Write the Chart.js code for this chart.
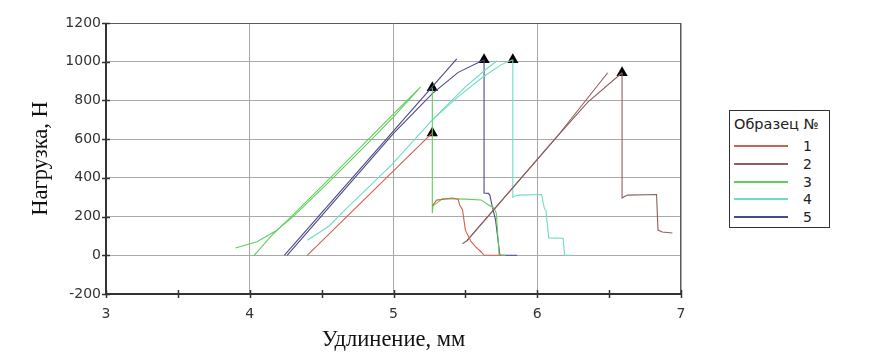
<!DOCTYPE html>
<html><head><meta charset="utf-8">
<script src="https://cdn.jsdelivr.net/npm/chart.js@4/dist/chart.umd.min.js"></script>
<style>
html,body{margin:0;padding:0;background:#fff;}
#wrap{position:relative;width:873px;height:362px;}
#legend{position:absolute;left:729px;top:110px;width:101px;height:118px;border:1px solid #333;box-sizing:border-box;font-family:"DejaVu Sans",Verdana,sans-serif;color:#222;background:#fff;}
#legend .ttl{position:absolute;left:4px;top:5px;font-size:14.5px;line-height:16px;white-space:nowrap;}
#legend .row{position:absolute;left:0;width:100%;height:16px;}
#legend .ln{position:absolute;left:4px;top:7px;width:54px;height:2px;}
#legend .lb{position:absolute;left:73px;top:0;font-size:14px;line-height:16px;}
</style></head>
<body>
<div id="wrap"><canvas id="c" width="873" height="362"></canvas><div id="legend"></div></div>
<script>
// ---- series ----
const seriesNames = ['1', '2', '3', '4', '5'];
const seriesColors = ['#d2604f', '#8f5f5f', '#5fcf5f', '#6fdcc4', '#4b4a88'];
const legendTitle = 'Образец №';

// ---- axis ticks ----
const xTickValues = [3, 4, 5, 6, 7];
const yTickValues = [-200, 0, 200, 400, 600, 800, 1000, 1200];

// ---- specimen 1 (red) ----
const s1LoadX = [4.40, 4.62, 5.27];
const s1LoadY = [0, 160, 632];
const s1DropX = [5.27, 5.30, 5.41, 5.45, 5.46, 5.48, 5.50, 5.54, 5.57, 5.61, 5.63, 5.75];
const s1DropY = [255, 285, 296, 290, 260, 235, 130, 70, 45, 17, 0, 0];

// ---- specimen 2 (brown) ----
const s2LoadAX = [5.48, 5.51, 6.13, 6.49];
const s2LoadAY = [60, 75, 606, 943];
const s2LoadBX = [5.51, 6.13, 6.35, 6.59];
const s2LoadBY = [75, 606, 790, 943];
const s2DropX = [6.59, 6.59, 6.61, 6.63, 6.83, 6.84, 6.87, 6.94];
const s2DropY = [943, 296, 305, 311, 314, 130, 120, 115];

// ---- specimen 3 (green) ----
const s3LoadAX = [3.90, 4.05, 4.18, 4.30, 4.58, 4.85, 5.00, 5.17];
const s3LoadAY = [38, 70, 125, 198, 400, 600, 715, 855];
const s3LoadBX = [4.03, 4.15, 4.31, 4.60, 5.00, 5.19];
const s3LoadBY = [0, 100, 215, 430, 730, 870];
const s3DropX = [5.27, 5.27, 5.275, 5.34, 5.50, 5.61, 5.65, 5.70, 5.715, 5.735, 5.78];
const s3DropY = [866, 218, 255, 292, 290, 286, 265, 243, 218, 0, 0];

// ---- specimen 4 (cyan) ----
const s4LoadAX = [4.40, 4.55, 4.67, 4.99, 5.27, 5.50, 5.65, 5.72];
const s4LoadAY = [78, 150, 240, 470, 700, 870, 965, 1005];
const s4LoadBX = [5.27, 5.45, 5.62, 5.75, 5.83];
const s4LoadBY = [700, 820, 920, 985, 1010];
const s4DropX = [5.83, 5.83, 5.84, 5.87, 6.03, 6.05, 6.06, 6.08, 6.18, 6.19, 6.24];
const s4DropY = [1010, 300, 305, 311, 314, 240, 233, 90, 88, 0, 0];

// ---- specimen 5 (dark blue) ----
const s5LoadAX = [4.24, 5.44];
const s5LoadAY = [0, 1015];
const s5LoadBX = [4.26, 5.00, 5.27, 5.45, 5.63];
const s5LoadBY = [0, 630, 835, 945, 1010];
const s5DropX = [5.63, 5.63, 5.66, 5.67, 5.69, 5.71, 5.74, 5.86];
const s5DropY = [1010, 322, 320, 311, 243, 182, 0, 0];

// ---- break markers ----
const breakX = [5.27, 5.27, 5.63, 5.83, 6.59];
const breakY = [632, 866, 1010, 1010, 943];

const xTitle = 'Удлинение, мм';
const yTitle = 'Нагрузка, Н';

const curves = [
  [0, s1LoadX, s1LoadY], [0, s1DropX, s1DropY],
  [1, s2LoadAX, s2LoadAY], [1, s2LoadBX, s2LoadBY], [1, s2DropX, s2DropY],
  [2, s3LoadAX, s3LoadAY], [2, s3LoadBX, s3LoadBY], [2, s3DropX, s3DropY],
  [3, s4LoadAX, s4LoadAY], [3, s4LoadBX, s4LoadBY], [3, s4DropX, s4DropY],
  [4, s5LoadAX, s5LoadAY], [4, s5LoadBX, s5LoadBY], [4, s5DropX, s5DropY]
];

const zip = (xs, ys) => xs.map((x, i) => ({x: x, y: ys[i]}));

const datasets = curves.map(([s, xs, ys]) => ({
  label: seriesNames[s],
  data: zip(xs, ys),
  showLine: true,
  borderColor: seriesColors[s],
  borderWidth: 1.1,
  pointRadius: 0,
  tension: 0,
  fill: false
}));
datasets.push({
  label: 'break',
  data: zip(breakX, breakY),
  showLine: false,
  pointStyle: 'triangle',
  pointRadius: 6.5,
  backgroundColor: '#000',
  borderColor: '#000',
  borderWidth: 0
});

// legend (HTML)
const lg = document.getElementById('legend');
const t = document.createElement('div'); t.className = 'ttl'; t.textContent = legendTitle; lg.appendChild(t);
seriesNames.forEach((n, i) => {
  const r = document.createElement('div'); r.className = 'row';
  r.style.top = (27 + i * 17.8) + 'px';
  const l = document.createElement('div'); l.className = 'ln'; l.style.background = seriesColors[i];
  const b = document.createElement('div'); b.className = 'lb'; b.textContent = n;
  r.appendChild(l); r.appendChild(b); lg.appendChild(r);
});

const GRID = '#a9a9a9';
const framePlugin = {
  id: 'frame',
  afterDraw(chart) {
    const ctx = chart.ctx, a = chart.chartArea, xs = chart.scales.x, ys = chart.scales.y;
    ctx.save();
    ctx.strokeStyle = '#5a5a5a'; ctx.lineWidth = 1;
    ctx.beginPath(); ctx.moveTo(a.left, a.top + 0.5); ctx.lineTo(a.right, a.top + 0.5); ctx.stroke();
    ctx.beginPath(); ctx.moveTo(a.right - 0.5, a.top); ctx.lineTo(a.right - 0.5, a.bottom); ctx.stroke();
    ctx.strokeStyle = '#333'; ctx.lineWidth = 2;
    ctx.beginPath(); ctx.moveTo(a.left, a.top); ctx.lineTo(a.left, a.bottom); ctx.lineTo(a.right, a.bottom); ctx.stroke();
    ctx.lineWidth = 1.5;
    xs.ticks.forEach(tk => {
      const p = Math.round(xs.getPixelForValue(tk.value)) + 0.5;
      ctx.beginPath(); ctx.moveTo(p, a.bottom - 4); ctx.lineTo(p, a.bottom + 4); ctx.stroke();
    });
    ys.ticks.forEach(tk => {
      const p = Math.round(ys.getPixelForValue(tk.value)) + 0.5;
      ctx.beginPath(); ctx.moveTo(a.left - 4, p); ctx.lineTo(a.left + 4, p); ctx.stroke();
    });
    ctx.restore();
  }
};

new Chart(document.getElementById('c'), {
  type: 'scatter',
  data: {datasets: datasets},
  options: {
    responsive: false,
    animation: false,
    layout: {padding: {top: 23, right: 192, left: 0, bottom: 0}},
    plugins: {legend: {display: false}, tooltip: {enabled: false}},
    scales: {
      x: {
        type: 'linear', min: xTickValues[0], max: xTickValues[xTickValues.length - 1],
        afterFit: s => { s.height = 68; },
        border: {display: false},
        grid: {
          drawTicks: false,
          color: c => (c.tick && xTickValues.includes(c.tick.value)) ? GRID : 'rgba(0,0,0,0)',
          lineWidth: 1
        },
        ticks: {
          stepSize: 0.5, padding: 12, color: '#333',
          font: {family: '"DejaVu Sans", Verdana, sans-serif', size: 14},
          callback: v => xTickValues.includes(v) ? String(v) : ''
        },
        title: {
          display: true, text: xTitle, color: '#111',
          font: {family: '"Liberation Serif", "Times New Roman", serif', size: 22.5},
          padding: {top: 0, bottom: 8}
        }
      },
      y: {
        type: 'linear', min: yTickValues[0], max: yTickValues[yTickValues.length - 1],
        afterFit: s => { s.width = 106; },
        border: {display: false},
        grid: {
          drawTicks: false,
          color: c => (c.tick && yTickValues.includes(c.tick.value)) ? GRID : 'rgba(0,0,0,0)',
          lineWidth: 1
        },
        ticks: {
          stepSize: 100, padding: 5, color: '#333',
          font: {family: '"DejaVu Sans", Verdana, sans-serif', size: 14},
          callback: v => yTickValues.includes(v) ? String(v) : ''
        },
        title: {
          display: true, text: yTitle, color: '#111',
          font: {family: '"Liberation Serif", "Times New Roman", serif', size: 22.5},
          padding: {top: 28, bottom: 0}
        }
      }
    }
  },
  plugins: [framePlugin]
});
</script>
</body></html>
